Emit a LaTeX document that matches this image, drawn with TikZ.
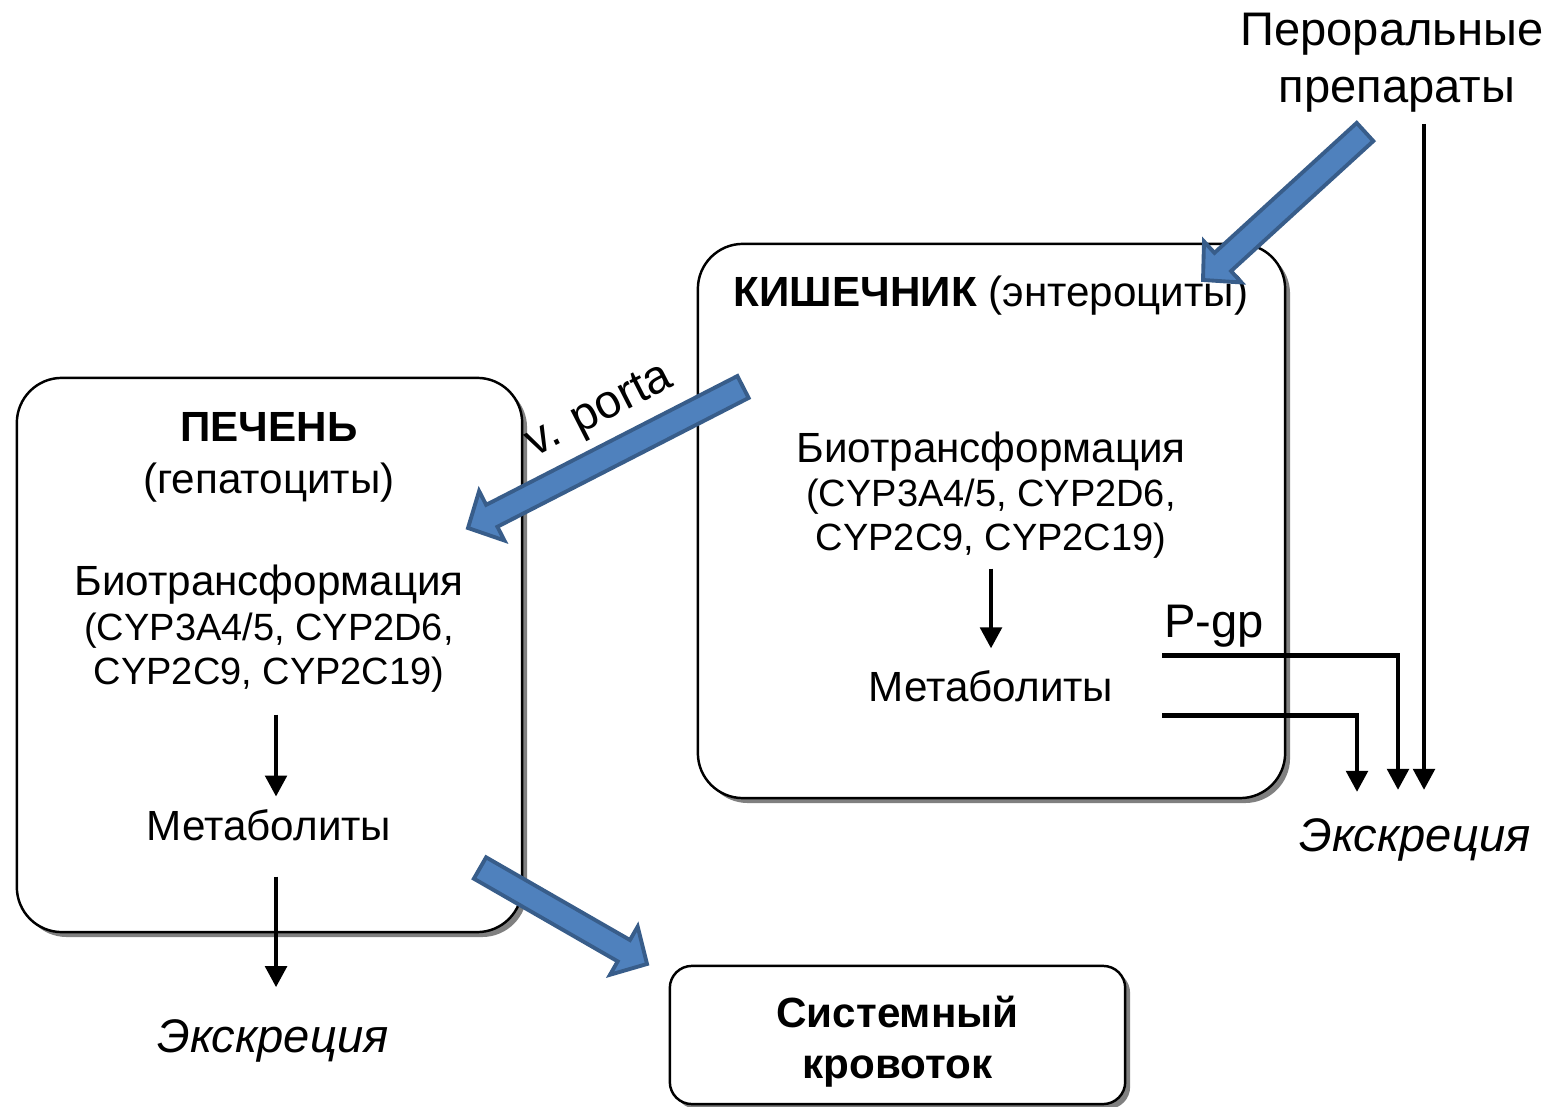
\documentclass[tikz,border=0pt]{standalone}
\usepackage{fontspec}
\setmainfont{Liberation Sans}
\usetikzlibrary{arrows.meta,calc,shadows}

\definecolor{arrowfill}{HTML}{4F81BD}
\definecolor{arrowedge}{HTML}{385D8A}

\tikzset{
  panel/.style={draw, line width=0.7pt, fill=white, rounded corners=12.8pt,
    drop shadow={shadow xshift=1.4pt, shadow yshift=-1.4pt, fill=gray, opacity=1}},
  txt/.style={inner sep=0pt, align=center, font=\fontsize{12}{13.1}\selectfont},
  cyptxt/.style={inner sep=0pt, align=center, font=\fontsize{10.8}{12.6}\selectfont},
  bigtxt/.style={inner sep=0pt, align=center, font=\fontsize{13.4}{16}\selectfont},
  exctxt/.style={inner sep=0pt, font=\fontsize{13.4}{16}\selectfont\itshape},
  flow/.style={line width=1.4pt, -{Triangle[width=6pt,length=6pt]}},
  blockarrow/.style={fill=arrowfill, draw=arrowedge, line width=1.1pt, line join=miter}
}

% wide blue arrow from #1 to #2
\newcommand{\bigarrow}[2]{%
  \draw[blockarrow]
    ($(#1)!3.5pt!90:(#2)$) --
    ($(#2)!7.6pt!(#1)!3.5pt!-90:(#1)$) --
    ($(#2)!7.6pt!(#1)!7.9pt!-90:(#1)$) --
    (#2) --
    ($(#2)!7.6pt!(#1)!7.9pt!90:(#1)$) --
    ($(#2)!7.6pt!(#1)!3.5pt!90:(#1)$) --
    ($(#1)!3.5pt!-90:(#2)$) -- cycle;}

\begin{document}
\begin{tikzpicture}[x=0.01cm, y=-0.01cm]
    \useasboundingbox (0,0) rectangle (1552,1107);

    % Boxes
    \node[panel, minimum width=143.7pt, minimum height=157.6pt] (liver) at (269.5,655) {};
    \node[panel, minimum width=167pt, minimum height=157.6pt] (gut) at (991.5,521) {};
    \node[panel, rounded corners=6.3pt, minimum width=129.5pt, minimum height=39.3pt] (blood) at (897.5,1035) {};

    % Liver
    \node[txt] (lhead) at (269,457) {\textbf{ПЕЧЕНЬ}\\[1.7pt](гепатоциты)};
    \node[txt] (lbio) at (269,585) {Биотрансформация};
    \node[cyptxt] (lcyp) at (269,653) {(CYP3A4/5, CYP2D6,\\CYP2C9, CYP2C19)};
    \node[txt] (lmet) at (269,825) {Метаболиты};
    \node[exctxt] (lexc) at (273,1041) {Экскреция};

    % Intestine
    \node[txt] (ghead) at (991,296) {\textbf{КИШЕЧНИК} (энтероциты)};
    \node[txt] (gbio) at (991,452) {Биотрансформация};
    \node[cyptxt] (gcyp) at (991,519) {(CYP3A4/5, CYP2D6,\\CYP2C9, CYP2C19)};
    \node[txt] (gmet) at (991,686) {Метаболиты};
    \node[bigtxt] (pgp) at (1214,626) {P-gp};
    \node[exctxt] (gexc) at (1415,840) {Экскреция};

    % Oral drugs and blood
    \node[bigtxt] (oral) at (1392,34) {Пероральные};
    \node[bigtxt] (oral2) at (1397,95) {препараты};
    \node[txt, font=\fontsize{12}{14.5}\selectfont\bfseries] (btext) at ([yshift=-1.8pt]blood) {Системный\\кровоток};
    \node[bigtxt, rotate=27] (porta) at (600,412) {v. porta};

    % Thin arrows
    \draw[flow, shorten <=6pt, shorten >=3.4pt] ([xshift=2pt]lcyp.south) -- ([xshift=2pt]lcyp.south |- lmet.north);
    \draw[flow, shorten <=10pt, shorten >=9pt] ([xshift=2pt]lmet.south) -- ([xshift=2pt]lmet.south |- lexc.north);
    \draw[flow, shorten <=2.6pt, shorten >=6pt] (gcyp) -- (gmet);

    \coordinate (pgpA) at ([xshift=13.7pt, yshift=8.8pt]gmet.east);
    \coordinate (pgpB) at ([xshift=13.7pt, yshift=-8.5pt]gmet.east);
    \coordinate (exA) at (1357,792);
    \coordinate (exB) at (1398,790);
    \coordinate (exC) at (1424,790);
    \draw[flow] (pgpA) -| (exB);
    \draw[flow] (pgpB) -| (exA);
    \draw[flow, shorten <=3pt] (oral2.south -| exC) -- (exC);

    % Block arrows
    \coordinate (a1) at (1365,132);
    \coordinate (a1t) at (1203,280);
    \coordinate (a2) at (743,387);
    \coordinate (a2t) at (468,528);
    \coordinate (a3) at (480,868);
    \coordinate (a3t) at (647,964);
    \bigarrow{a1}{a1t}
    \bigarrow{a2}{a2t}
    \bigarrow{a3}{a3t}
\end{tikzpicture}
\end{document}
